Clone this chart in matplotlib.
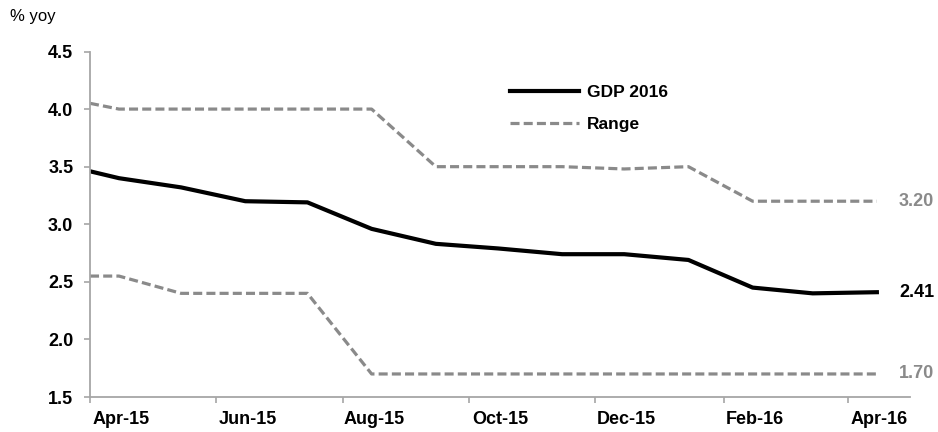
import matplotlib
matplotlib.use("Agg")
import matplotlib.pyplot as plt
import matplotlib.dates as mdates
import pandas as pd

plt.rcParams['font.family'] = ['Liberation Sans Narrow', 'Liberation Sans', 'DejaVu Sans']
plt.rcParams['lines.scale_dashes'] = False

dates = ["2015-04-01", "2015-04-15", "2015-05-15", "2015-06-15", "2015-07-15",
         "2015-08-15", "2015-09-15", "2015-10-15", "2015-11-15", "2015-12-15",
         "2016-01-15", "2016-02-15", "2016-03-15", "2016-04-15"]
gdp_2016 = [3.46, 3.40, 3.32, 3.20, 3.19, 2.96, 2.83, 2.79, 2.74, 2.74, 2.69, 2.45, 2.40, 2.41]
range_high = [4.05, 4.00, 4.00, 4.00, 4.00, 4.00, 3.50, 3.50, 3.50, 3.48, 3.50, 3.20, 3.20, 3.20]
range_low = [2.55, 2.55, 2.40, 2.40, 2.40, 1.70, 1.70, 1.70, 1.70, 1.70, 1.70, 1.70, 1.70, 1.70]
y_ticks = [1.5, 2.0, 2.5, 3.0, 3.5, 4.0, 4.5]
x_start, x_end = "2015-04-01", "2016-05-01"

d = pd.to_datetime(dates)
GRAY = "#8a8a8a"
AXC = "#a6a6a6"

fig = plt.figure(figsize=(9.38, 4.32), dpi=100)
ax = fig.add_axes([90/938, 1-397/432, 820/938, (397-51.5)/432])

ax.plot(d, gdp_2016, color="black", lw=3.0, solid_joinstyle="round", label="GDP 2016")
ax.plot(d, range_high, color=GRAY, lw=2.3, dashes=(6.5, 3.0), label="Range")
ax.plot(d, range_low, color=GRAY, lw=2.3, dashes=(6.5, 3.0))

ax.set_xlim(pd.Timestamp(x_start), pd.Timestamp(x_end))
ax.set_ylim(y_ticks[0], y_ticks[-1])
ax.set_yticks(y_ticks)
ax.set_yticklabels([f"{v:.1f}" for v in y_ticks])

ax.xaxis.set_major_locator(mdates.MonthLocator(bymonth=[2, 4, 6, 8, 10, 12], bymonthday=1))
ax.xaxis.set_major_formatter(plt.NullFormatter())
ax.xaxis.set_minor_locator(mdates.MonthLocator(bymonth=[2, 4, 6, 8, 10, 12], bymonthday=16))
ax.xaxis.set_minor_formatter(mdates.DateFormatter("%b-%y"))

for s in ["top", "right"]:
    ax.spines[s].set_visible(False)
for s in ["left", "bottom"]:
    ax.spines[s].set_color(AXC)
    ax.spines[s].set_linewidth(1.3)

ax.tick_params(axis="y", which="major", direction="out", length=4, width=1.2, color=AXC,
               pad=8, labelsize=13)
ax.tick_params(axis="x", which="major", direction="out", length=4, width=1.2, color=AXC)
ax.tick_params(axis="x", which="minor", length=0, pad=10, labelsize=13)
for lab in ax.get_yticklabels() + ax.get_xticklabels(minor=True):
    lab.set_fontweight("bold")

# end labels
ax.annotate(f"{range_high[-1]:.2f}", (d[-1], range_high[-1]), xytext=(16, 0),
            textcoords="offset points", va="center", ha="left", fontsize=13,
            fontweight="bold", color=GRAY, annotation_clip=False)
ax.annotate(f"{gdp_2016[-1]:.2f}", (d[-1], gdp_2016[-1]), xytext=(16, 0),
            textcoords="offset points", va="center", ha="left", fontsize=13,
            fontweight="bold", color="black", annotation_clip=False)
ax.annotate(f"{range_low[-1]:.2f}", (d[-1], range_low[-1]), xytext=(16, 0),
            textcoords="offset points", va="center", ha="left", fontsize=13,
            fontweight="bold", color=GRAY, annotation_clip=False)

leg = ax.legend(loc="upper left", bbox_to_anchor=(503/938, 1-78/432), bbox_transform=fig.transFigure,
                frameon=False, prop={"weight": "bold", "size": 12.5}, handlelength=4.0,
                handletextpad=0.45, labelspacing=0.95, borderaxespad=0)

fig.text(10/938, 1-16/432, "% yoy", fontsize=12, va="center", ha="left")

fig.savefig("out.png", dpi=100)
